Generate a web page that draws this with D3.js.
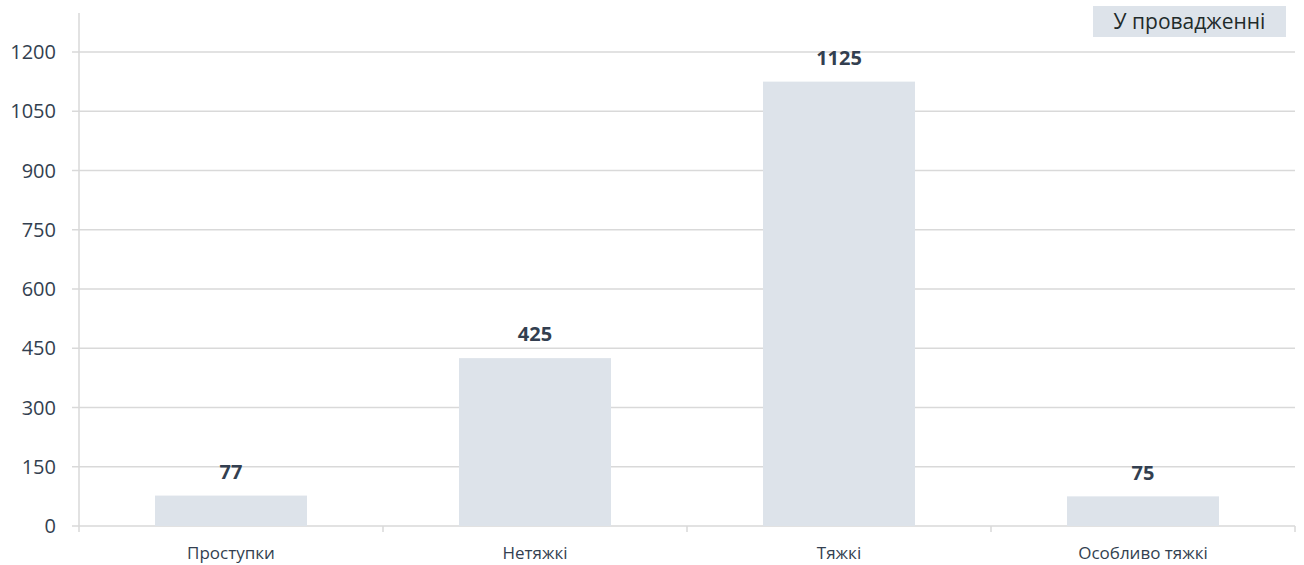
<!DOCTYPE html>
<html>
<head>
<meta charset="utf-8">
<script src="https://cdn.jsdelivr.net/npm/d3@7"></script>
<style>
  body { margin: 0; background: #fff; }
  text { font-family: "Open Sans", sans-serif; }
</style>
</head>
<body>
<div id="chart"></div>
<script>
let categories = ["Проступки", "Нетяжкі", "Тяжкі", "Особливо тяжкі"];
let values = [77, 425, 1125, 75];
let yTicks = [0, 150, 300, 450, 600, 750, 900, 1050, 1200];
let seriesName = "У провадженні";

let svgWidth = 1304;
let svgHeight = 565;

let svg = d3.select("#chart")
  .append("svg")
  .attr("width", svgWidth)
  .attr("height", svgHeight);

let x = d3.scaleBand()
  .domain(categories)
  .range([79, 1295])
  .paddingInner(0.5)
  .paddingOuter(0.25);

let y = d3.scaleLinear()
  .domain([0, 1200])
  .range([526, 52]);

// gridlines + y labels
let grid = svg.append("g");
grid.selectAll("line")
  .data(yTicks)
  .enter()
  .append("line")
  .attr("x1", 72)
  .attr("x2", 1295)
  .attr("y1", d => y(d))
  .attr("y2", d => y(d))
  .attr("stroke", "#d9d9d9")
  .attr("stroke-width", 1.5);

grid.selectAll("text")
  .data(yTicks)
  .enter()
  .append("text")
  .attr("x", 56)
  .attr("y", d => y(d))
  .attr("dy", "0.36em")
  .attr("text-anchor", "end")
  .attr("font-size", 20)
  .attr("fill", "#333f50")
  .text(d => d);

// y axis line
svg.append("line")
  .attr("x1", 79).attr("x2", 79)
  .attr("y1", 13).attr("y2", 532)
  .attr("stroke", "#d9d9d9")
  .attr("stroke-width", 1.5);

// x ticks at band boundaries
let boundaries = categories.map(c => x(c) - x.step() * 0.25).concat([1295]);
svg.append("g").selectAll("line")
  .data(boundaries.slice(1))
  .enter()
  .append("line")
  .attr("x1", d => d).attr("x2", d => d)
  .attr("y1", 526).attr("y2", 532)
  .attr("stroke", "#d9d9d9")
  .attr("stroke-width", 1.5);

// bars
svg.append("g").selectAll("rect")
  .data(values)
  .enter()
  .append("rect")
  .attr("x", (d, i) => x(categories[i]))
  .attr("y", d => y(d))
  .attr("width", x.bandwidth())
  .attr("height", d => y(0) - y(d))
  .attr("fill", "#dde3ea");

// value labels
svg.append("g").selectAll("text")
  .data(values)
  .enter()
  .append("text")
  .attr("x", (d, i) => x(categories[i]) + x.bandwidth() / 2)
  .attr("y", d => y(d) - 24)
  .attr("dy", "0.36em")
  .attr("text-anchor", "middle")
  .attr("font-size", 20)
  .attr("font-weight", "bold")
  .attr("fill", "#333f50")
  .text(d => d);

// category labels
svg.append("g").selectAll("text")
  .data(categories)
  .enter()
  .append("text")
  .attr("x", d => x(d) + x.bandwidth() / 2)
  .attr("y", 559)
  .attr("text-anchor", "middle")
  .attr("font-size", 17)
  .attr("fill", "#333f50")
  .text(d => d);

// legend box
let legend = svg.append("g");
legend.append("rect")
  .attr("x", 1093)
  .attr("y", 6)
  .attr("width", 193)
  .attr("height", 31)
  .attr("fill", "#dde3ea");
legend.append("text")
  .attr("x", 1189.5)
  .attr("y", 21.5)
  .attr("dy", "0.36em")
  .attr("text-anchor", "middle")
  .attr("font-size", 21)
  .attr("fill", "#1f2b2b")
  .text(seriesName);
</script>
</body>
</html>
